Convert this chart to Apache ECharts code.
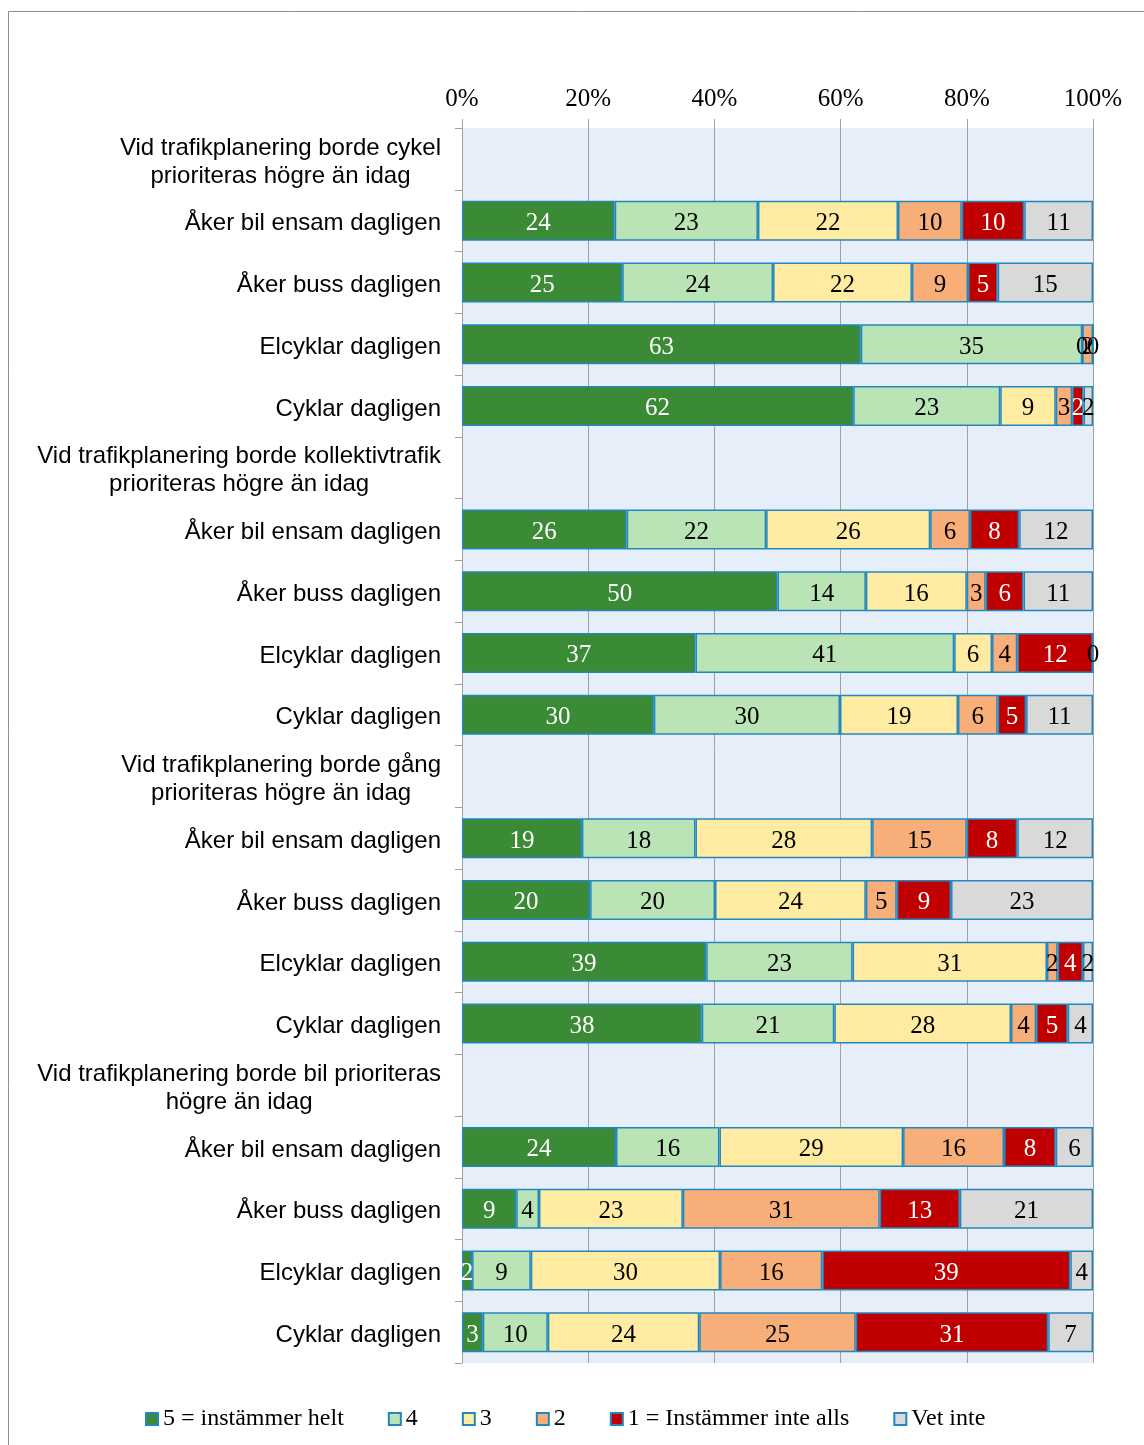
<!DOCTYPE html>
<html>
<head>
<meta charset="utf-8">
<script src="https://cdn.jsdelivr.net/npm/echarts@6/dist/echarts.min.js"></script>
<style>
  html, body { margin: 0; padding: 0; background: #ffffff; }
  #chart { width: 1144px; height: 1445px; }
</style>
</head>
<body>
<div id="chart"></div>
<script>
// Row labels, top to bottom (group headings have no bars)
const categories = [
  'Vid trafikplanering borde cykel\nprioriteras högre än idag',
  'Åker bil ensam dagligen',
  'Åker buss dagligen',
  'Elcyklar dagligen',
  'Cyklar dagligen',
  'Vid trafikplanering borde kollektivtrafik\nprioriteras högre än idag',
  'Åker bil ensam dagligen',
  'Åker buss dagligen',
  'Elcyklar dagligen',
  'Cyklar dagligen',
  'Vid trafikplanering borde gång\nprioriteras högre än idag',
  'Åker bil ensam dagligen',
  'Åker buss dagligen',
  'Elcyklar dagligen',
  'Cyklar dagligen',
  'Vid trafikplanering borde bil prioriteras\nhögre än idag',
  'Åker bil ensam dagligen',
  'Åker buss dagligen',
  'Elcyklar dagligen',
  'Cyklar dagligen'
];

// Share of answers (%) per response option
const helt   = [null, 24.2, 25.4, 63.2, 62.0, null, 26.1, 50, 37, 30.4, null, 19, 20.3, 38.7, 38, null, 24.4, 8.6, 1.6, 3.3];
const fyra   = [null, 22.7, 23.9, 35.1, 23.3, null, 22.1, 14, 41, 29.5, null, 18, 19.8, 23.2, 21, null, 16.4, 3.6, 9.3, 10.3];
const tre    = [null, 22.2, 22.0, 0, 8.8, null, 26.0, 16, 6, 18.7, null, 28, 23.9, 30.8, 28, null, 29.1, 22.8, 30.0, 24.0];
const tva    = [null, 10.1, 8.9, 1.7, 2.6, null, 6.3, 3, 4, 6.3, null, 15, 4.9, 1.7, 4, null, 16.0, 31.2, 16.2, 24.8];
const inte   = [null, 9.9, 4.7, 0, 1.8, null, 7.8, 6, 12, 4.5, null, 8, 8.6, 4.0, 5, null, 8.2, 12.7, 39.3, 30.5];
const vetInte = [null, 10.9, 15.1, 0, 1.5, null, 11.7, 11, 0, 10.6, null, 12, 22.5, 1.6, 4, null, 5.9, 21.1, 3.6, 7.1];

const xTicks = [0, 20, 40, 60, 80, 100];

const seriesDefs = [
  { name: '5 = instämmer helt', data: helt, color: '#3A8A36', text: '#ffffff' },
  { name: '4', data: fyra, color: '#BAE4B5', text: '#000000' },
  { name: '3', data: tre, color: '#FFEBA1', text: '#000000' },
  { name: '2', data: tva, color: '#F8AE78', text: '#000000' },
  { name: '1 = Instämmer inte alls', data: inte, color: '#C00000', text: '#ffffff' },
  { name: 'Vet inte', data: vetInte, color: '#D9D9D9', text: '#000000' }
];

const SANS = "'Liberation Sans', Arial, sans-serif";
const SERIF = "'Liberation Serif', 'Times New Roman', serif";

const chart = echarts.init(document.getElementById('chart'), null, { renderer: 'canvas' });

chart.setOption({
  backgroundColor: '#ffffff',
  animation: false,
  graphic: [{
    type: 'rect',
    shape: { x: 8.5, y: 11.5, width: 1300, height: 1600 },
    style: { fill: 'none', stroke: '#8e8e8e', lineWidth: 1 },
    silent: true
  }],
  grid: {
    left: 462, right: 51, top: 128, bottom: 82,
    show: true, backgroundColor: '#E5EEF9', borderWidth: 0,
    containLabel: false
  },
  legend: {
    left: 140, top: 1402,
    itemWidth: 12, itemHeight: 12, itemGap: 44,
    icon: 'rect',
    textStyle: { fontFamily: SERIF, fontSize: 24, color: '#000' },
    data: seriesDefs.map(s => s.name)
  },
  xAxis: {
    type: 'value', position: 'top',
    min: xTicks[0], max: xTicks[xTicks.length - 1], interval: xTicks[1] - xTicks[0],
    axisLine: { show: false },
    axisTick: { show: true, length: 9, lineStyle: { color: '#A0A0A0' } },
    axisLabel: { formatter: '{value}%', fontFamily: SERIF, fontSize: 25, color: '#000', margin: 16 },
    splitLine: { show: true, lineStyle: { color: '#A0A0A0', width: 1 } }
  },
  yAxis: {
    type: 'category', inverse: true, data: categories,
    axisLine: { show: true, lineStyle: { color: '#A0A0A0' } },
    axisTick: { show: true, length: 7, lineStyle: { color: '#A0A0A0' } },
    axisLabel: {
      margin: 21, color: '#000', fontFamily: SANS, fontSize: 24, lineHeight: 28,
      padding: [6, 0, 0, 0],
      formatter: v => v.split('\n').map(l => '{h|' + l + '}').join('\n'),
      rich: { h: { align: 'center', fontFamily: SANS, fontSize: 24, lineHeight: 28, color: '#000' } }
    }
  },
  series: seriesDefs.map(s => ({
    name: s.name, type: 'bar', stack: 'total', barWidth: 40,
    data: s.data,
    itemStyle: { color: s.color, borderColor: '#2287BE', borderWidth: 1.5 },
    label: {
      show: true, position: 'inside', color: s.text, offset: [0, 3],
      fontFamily: SERIF, fontSize: 25,
      formatter: p => String(Math.round(p.value))
    },
    emphasis: { disabled: true }
  }))
});
</script>
</body>
</html>
